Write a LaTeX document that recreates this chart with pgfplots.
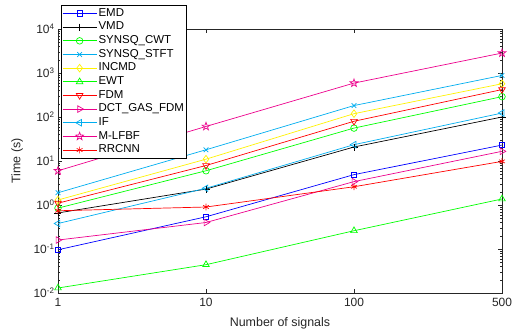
\documentclass[border=0pt]{standalone}
\usepackage{fontspec}
\setmainfont{Liberation Sans}
\usepackage{pgfplots}
\pgfplotsset{compat=1.18}
\definecolor{axgray}{rgb}{0.15,0.15,0.15}
\pgfdeclareplotmark{pentagram}{%
  \pgfpathmoveto{\pgfpointpolar{90}{1.25\pgfplotmarksize}}%
  \pgfpathlineto{\pgfpointpolar{126}{0.5\pgfplotmarksize}}%
  \pgfpathlineto{\pgfpointpolar{162}{1.25\pgfplotmarksize}}%
  \pgfpathlineto{\pgfpointpolar{198}{0.5\pgfplotmarksize}}%
  \pgfpathlineto{\pgfpointpolar{234}{1.25\pgfplotmarksize}}%
  \pgfpathlineto{\pgfpointpolar{270}{0.5\pgfplotmarksize}}%
  \pgfpathlineto{\pgfpointpolar{306}{1.25\pgfplotmarksize}}%
  \pgfpathlineto{\pgfpointpolar{342}{0.5\pgfplotmarksize}}%
  \pgfpathlineto{\pgfpointpolar{18}{1.25\pgfplotmarksize}}%
  \pgfpathlineto{\pgfpointpolar{54}{0.5\pgfplotmarksize}}%
  \pgfpathclose
  \pgfusepathqstroke
}
\begin{document}
\begin{tikzpicture}
\begin{axis}[
  name=ax,
  scale only axis,
  width=444bp, height=264bp,
  ymode=log,
  xmin=0, xmax=3,
  ymin=1e-2, ymax=1e4,
  xtick={0,1,2,3},
  xticklabels={1,10,100,500},
  ytick={1e-2,1e-1,1,1e1,1e2,1e3,1e4},
  yticklabels={10\textsuperscript{-2},10\textsuperscript{-1},10\textsuperscript{0},10\textsuperscript{1},10\textsuperscript{2},10\textsuperscript{3},10\textsuperscript{4}},
  minor ytick={2e-2,3e-2,4e-2,5e-2,6e-2,7e-2,8e-2,9e-2,
               2e-1,3e-1,4e-1,5e-1,6e-1,7e-1,8e-1,9e-1,
               2,3,4,5,6,7,8,9,
               20,30,40,50,60,70,80,90,
               200,300,400,500,600,700,800,900,
               2000,3000,4000,5000,6000,7000,8000,9000},
  tick align=inside,
  major tick length=4.5bp,
  minor tick length=2.5bp,
  tick style={axgray, line width=0.5pt},
  axis line style={axgray, line width=0.6pt},
  ticklabel style={font=\fontsize{12}{13}\selectfont, text=axgray},
  xticklabel style={yshift=-1.5bp},
  xlabel={Number of signals},
  ylabel={Time (s)},
  label style={font=\fontsize{12.5}{14}\selectfont, text=axgray},
  xlabel style={at={(axis description cs:0.5,-0.114)}, anchor=center},
  ylabel style={at={(axis description cs:-0.092,0.5)}, anchor=center},
  every axis plot/.append style={line width=0.7pt},
  mark size=3.3bp,
  legend cell align=left,
  legend style={at={(0.0068,1.091)}, anchor=north west,
    font=\fontsize{11.5}{12}\selectfont, draw=black, line width=0.5pt,
    inner xsep=1pt, inner ysep=1.5pt,
    nodes={inner sep=1.6pt, text height=0.8em, text depth=0.25em}},
  legend image code/.code={%
    \draw[mark repeat=2,mark phase=2] plot coordinates {(0cm,0cm) (0.6cm,0cm) (1.2cm,0cm)};},
]
\addplot[blue, mark=square, mark size=2.7bp] coordinates {(0,0.096) (1,0.54) (2,4.9) (3,23)};
\addlegendentry{EMD}
\addplot[black, mark=+, mark size=3.5bp] coordinates {(0,0.66) (1,2.3) (2,20.8) (3,100)};
\addlegendentry{VMD}
\addplot[green, mark=o] coordinates {(0,0.85) (1,6.0) (2,56) (3,290)};
\addlegendentry{SYNSQ\_CWT}
\addplot[cyan, mark=x] coordinates {(0,1.9) (1,18) (2,182) (3,880)};
\addlegendentry{SYNSQ\_STFT}
\addplot[yellow, mark=diamond, mark size=3.8bp] coordinates {(0,1.3) (1,11) (2,119) (3,570)};
\addlegendentry{INCMD}
\addplot[green, mark=triangle, mark size=3.8bp] coordinates {(0,0.013) (1,0.044) (2,0.26) (3,1.37)};
\addlegendentry{EWT}
\addplot[red, mark=triangle, mark size=3.8bp, mark options={rotate=180}] coordinates {(0,1.1) (1,7.9) (2,80) (3,420)};
\addlegendentry{FDM}
\addplot[magenta, mark=triangle, mark size=3.8bp, mark options={rotate=-90}] coordinates {(0,0.16) (1,0.40) (2,3.4) (3,16.6)};
\addlegendentry{DCT\_GAS\_FDM}
\addplot[cyan, mark=triangle, mark size=3.8bp, mark options={rotate=90}] coordinates {(0,0.38) (1,2.4) (2,23.5) (3,123)};
\addlegendentry{IF}
\addplot[magenta, mark=pentagram] coordinates {(0,6.0) (1,61) (2,590) (3,2840)};
\addlegendentry{M-LFBF}
\addplot[red, mark=asterisk] coordinates {(0,0.74) (1,0.90) (2,2.6) (3,9.8)};
\addlegendentry{RRCNN}
\end{axis}
\pgfresetboundingbox
\path[use as bounding box] ([xshift=-58bp,yshift=-42bp]ax.south west) rectangle ([xshift=455bp,yshift=293bp]ax.south west);
\end{tikzpicture}
\end{document}
